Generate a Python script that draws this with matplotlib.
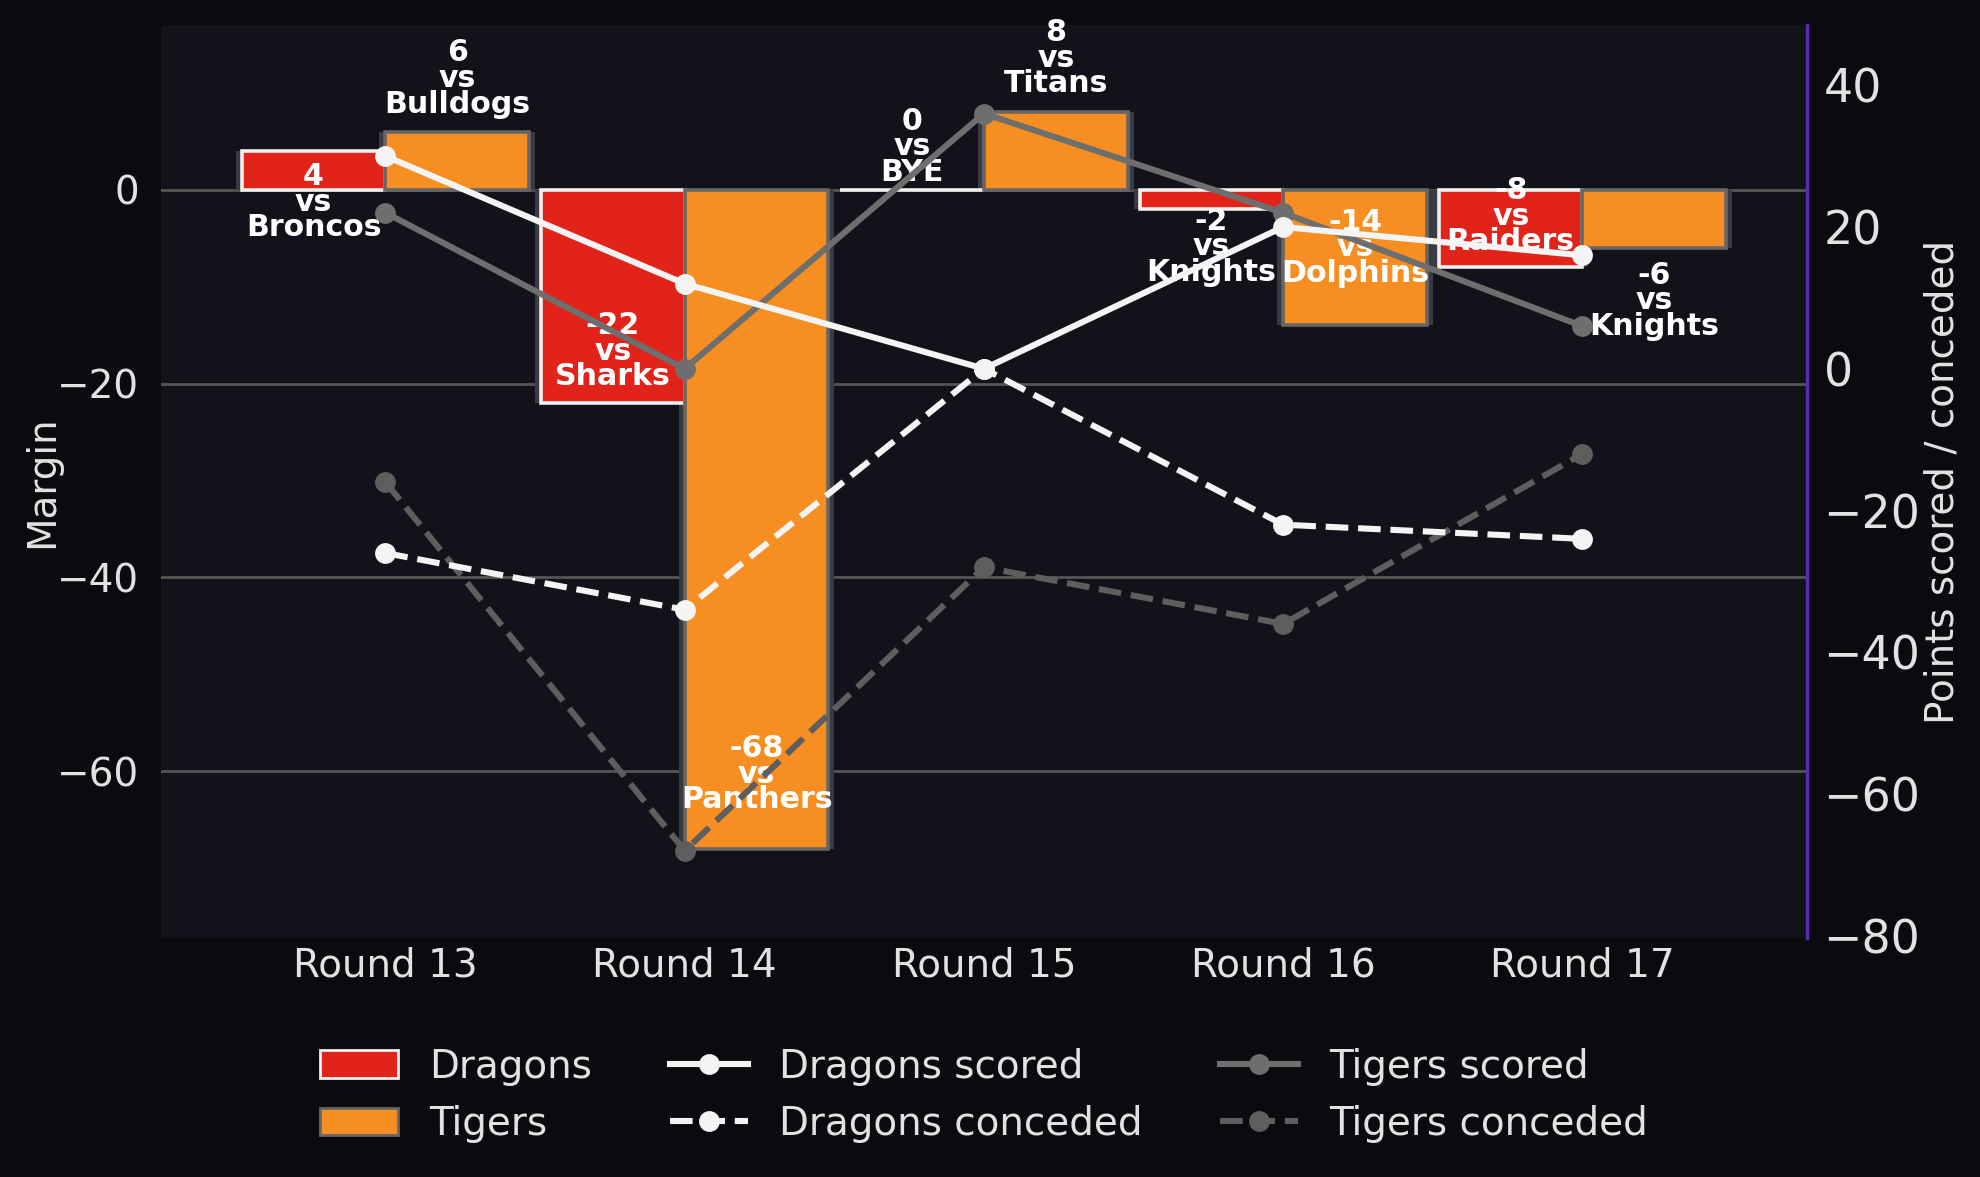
import numpy as np
import matplotlib.pyplot as plt
from matplotlib.patches import Patch
from matplotlib.lines import Line2D

# --- data ---
rounds = ["Round 13", "Round 14", "Round 15", "Round 16", "Round 17"]
dragons_margin = [4, -22, 0, -2, -8]
tigers_margin = [6, -68, 8, -14, -6]
dragons_opp = ["Broncos", "Sharks", "BYE", "Knights", "Raiders"]
tigers_opp = ["Bulldogs", "Panthers", "Titans", "Dolphins", "Knights"]
dragons_scored = [30, 12, 0, 20, 16]
dragons_conceded = [-26, -34, 0, -22, -24]
tigers_scored = [22, 0, 36, 22, 6]
tigers_conceded = [-16, -68, -28, -36, -12]

# label offsets (points) for the bar annotations
dragons_dy = [-18.5, 18.6, 15.5, -13.5, 18.4]
tigers_dy = [19.1, 26.8, 19.4, 28.0, -19.0]

RED = "#e2231a"
ORANGE = "#f68e22"
FG = "#e2e2e2"
DGRAY = "#6e6e6e"

fig = plt.figure(figsize=(9.9, 5.885), dpi=200, facecolor="#0b0b0f")
ax = fig.add_axes([0.0813, 0.2031, 0.9126 - 0.0813, 0.9788 - 0.2031])
ax.set_facecolor("#12131a")

x = np.arange(len(rounds))
w = 0.48

# shadow bars behind
ax.bar(x - w / 2, dragons_margin, w + 0.04, color="#3a3a42", zorder=1.5)
ax.bar(x + w / 2, tigers_margin, w + 0.04, color="#3a3a42", zorder=1.5)
ax.bar(x - w / 2, dragons_margin, w, color=RED, edgecolor="#f0f0f0", linewidth=1.3, zorder=2)
ax.bar(x + w / 2, tigers_margin, w, color=ORANGE, edgecolor="#666666", linewidth=1.3, zorder=2)

for i in range(len(rounds)):
    ax.annotate(f"{dragons_margin[i]}\nvs\n{dragons_opp[i]}", (x[i] - w / 2, dragons_margin[i]),
                xytext=(0, dragons_dy[i]), textcoords="offset points", ha="center", va="center",
                color="white", fontsize=10.8, fontweight="bold", linespacing=0.85, zorder=5)
    ax.annotate(f"{tigers_margin[i]}\nvs\n{tigers_opp[i]}", (x[i] + w / 2, tigers_margin[i]),
                xytext=(0, tigers_dy[i]), textcoords="offset points", ha="center", va="center",
                color="white", fontsize=10.8, fontweight="bold", linespacing=0.85, zorder=5)

ax.set_xlim(-0.75, 4.75)
ax.set_ylim(-77.2, 17.0)
ax.set_xticks(x)
ax.set_xticklabels(rounds)
ax.set_yticks([-60, -40, -20, 0])
ax.yaxis.grid(True, color="#555555", linewidth=1.0, zorder=0)
ax.set_axisbelow(True)
ax.tick_params(colors=FG, labelsize=14, length=0)
ax.tick_params(axis="y", pad=8)
ax.tick_params(axis="x", pad=3)
ax.set_ylabel("Margin", color=FG, fontsize=14, labelpad=-1.5)
for s in ax.spines.values():
    s.set_visible(False)

ax2 = ax.twinx()
ax2.plot(x, dragons_scored, color="#f4f4f4", lw=2.2, marker="o", ms=6.5, zorder=4)
ax2.plot(x, dragons_conceded, color="#f4f4f4", lw=2.2, ls="--", marker="o", ms=6.5, zorder=4)
ax2.plot(x, tigers_scored, color=DGRAY, lw=2.2, marker="o", ms=6.5, zorder=3)
ax2.plot(x, tigers_conceded, color="#5e5e5e", lw=2.2, ls="--", marker="o", ms=6.5, zorder=3)
ax2.set_ylim(-80.3, 48.5)
ax2.set_yticks([-80, -60, -40, -20, 0, 20, 40])
ax2.tick_params(colors=FG, labelsize=16.5, length=0, pad=6)
ax2.set_ylabel("Points scored / conceded", color=FG, fontsize=14, labelpad=1)
for name, s in ax2.spines.items():
    s.set_visible(name == "right")
ax2.spines["right"].set_color("#5b2bb5")
ax2.spines["right"].set_linewidth(1.2)

handles = [
    Patch(facecolor=RED, edgecolor="#f0f0f0", label="Dragons"),
    Patch(facecolor=ORANGE, edgecolor="#666666", label="Tigers"),
    Line2D([], [], color="#f4f4f4", lw=2.2, marker="o", ms=6.5, label="Dragons scored"),
    Line2D([], [], color="#f4f4f4", lw=2.2, ls="--", marker="o", ms=6.5, label="Dragons conceded"),
    Line2D([], [], color=DGRAY, lw=2.2, marker="o", ms=6.5, label="Tigers scored"),
    Line2D([], [], color="#5e5e5e", lw=2.2, ls="--", marker="o", ms=6.5, label="Tigers conceded"),
]
leg = ax.legend(handles=handles, loc="upper center", bbox_to_anchor=(0.5, -0.103), ncol=3,
                frameon=False, fontsize=14, labelcolor=FG, columnspacing=2.0,
                handlelength=2.0, borderaxespad=0)

fig.savefig("out.png", dpi=200, facecolor=fig.get_facecolor())
